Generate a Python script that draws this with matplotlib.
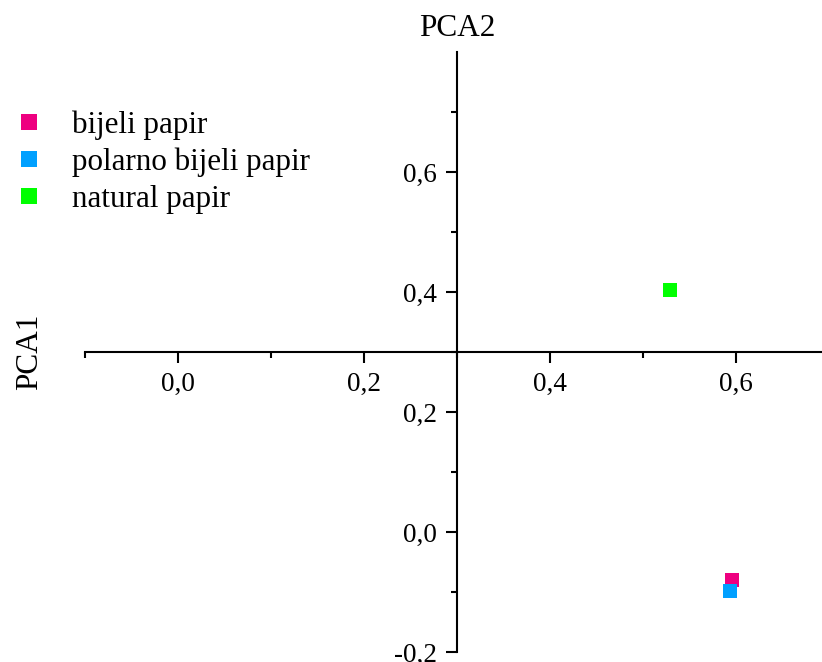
import matplotlib
matplotlib.use("Agg")
import matplotlib.pyplot as plt
from matplotlib.ticker import FixedLocator, FuncFormatter

# data
labels = ["bijeli papir", "polarno bijeli papir", "natural papir"]
pc_x = [0.596, 0.594, 0.529]
pc_y = [-0.080, -0.098, 0.403]
colors = ["#EE0080", "#00A0FF", "#00FF00"]

x_major = [0.0, 0.2, 0.4, 0.6]
x_minor = [-0.1, 0.1, 0.3, 0.5]
y_major = [-0.2, 0.0, 0.2, 0.4, 0.6]
y_minor = [-0.1, 0.1, 0.3, 0.5, 0.7]

plt.rcParams["font.family"] = ["Liberation Serif", "DejaVu Serif"]

W, H = 822, 662
fig = plt.figure(figsize=(W / 100, H / 100), dpi=100)
ax = fig.add_axes([84.5 / W, 10 / H, (W - 84.5) / W, 600 / H])

for xi, yi, c, lab in zip(pc_x, pc_y, colors, labels):
    ax.plot(xi, yi, "s", color=c, markersize=10, markeredgewidth=0,
            label=lab, clip_on=False)

ax.set_xlim(-0.1, 0.6 + 86 / 930)
ax.set_ylim(-0.2, 0.8)

for s in ("top", "right"):
    ax.spines[s].set_visible(False)
ax.spines["left"].set_position(("data", 0.3))
ax.spines["bottom"].set_position(("data", 0.3))
for s in ("left", "bottom"):
    ax.spines[s].set_linewidth(1.5)

fmt = FuncFormatter(lambda v, p: f"{v:.1f}".replace(".", ",").replace("-0,0", "0,0"))
ax.xaxis.set_major_locator(FixedLocator(x_major))
ax.xaxis.set_minor_locator(FixedLocator(x_minor))
ax.yaxis.set_major_locator(FixedLocator(y_major))
ax.yaxis.set_minor_locator(FixedLocator(y_minor))
ax.xaxis.set_major_formatter(fmt)
ax.yaxis.set_major_formatter(fmt)
ax.tick_params(which="major", direction="out", length=8, width=1.5,
               labelsize=19.5, pad=6)
ax.tick_params(which="minor", direction="out", length=4.5, width=1.5)

fig.text(457 / W, 1 - 28 / H, "PCA2", ha="center", va="center", fontsize=22.5)
fig.text(30 / W, 1 - 352 / H, "PCA1", ha="center", va="center",
         rotation=90, fontsize=22.5)

fig.legend(loc="upper left", bbox_to_anchor=(13.5 / W, 1 - 110 / H), frameon=False,
           fontsize=22.4, handlelength=1.0, handletextpad=0.89, labelspacing=0.26,
           borderpad=0, borderaxespad=0, markerscale=1.15)

fig.savefig("out.png", dpi=100)
